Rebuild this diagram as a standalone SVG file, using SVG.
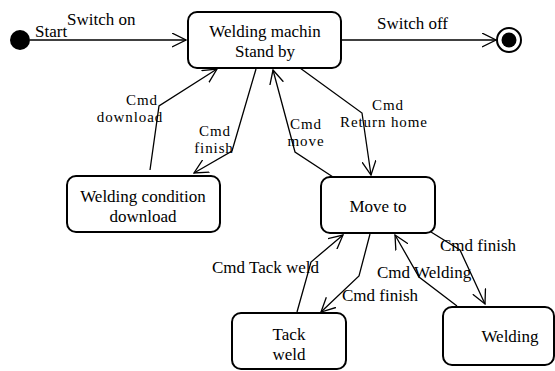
<svg xmlns="http://www.w3.org/2000/svg" width="555" height="371" viewBox="0 0 555 371">
  <defs>
    <style>
      .state rect { fill: #fff; stroke: #000; stroke-width: 2; }
      text { font-family: "Liberation Serif", "Times New Roman", serif; font-size: 17px; fill: #000; }
      .c { text-anchor: middle; }
      .sm { font-size: 15px; letter-spacing: 0.9px; }
      .edge { fill: none; stroke: #000; stroke-width: 1.3; marker-end: url(#open); }
    </style>
    <marker id="open" viewBox="0 0 15 15" refX="14" refY="7.5" markerWidth="15" markerHeight="15" markerUnits="userSpaceOnUse" orient="auto">
      <path d="M0,0.5 L14,7.5 L0,14.5" fill="none" stroke="#000" stroke-width="1.3"/>
    </marker>
  </defs>
  <rect width="555" height="371" fill="#fff"/>

  <!-- pseudo states -->
  <g id="start">
    <circle cx="20" cy="40" r="10" fill="#000"/>
    <text x="35" y="37">Start</text>
  </g>
  <g id="end">
    <circle cx="509" cy="40" r="12" fill="#fff" stroke="#000" stroke-width="2"/>
    <circle cx="509" cy="40" r="7.5" fill="#000"/>
  </g>

  <!-- states -->
  <g id="standby" class="state">
    <rect x="188" y="12" width="153" height="56" rx="9"/>
    <text class="c" x="265" y="37">Welding machin</text>
    <text class="c" x="265" y="57">Stand by</text>
  </g>
  <g id="download" class="state">
    <rect x="67" y="176" width="153" height="56" rx="9"/>
    <text class="c" x="143" y="202">Welding condition</text>
    <text class="c" x="143" y="222">download</text>
  </g>
  <g id="moveto" class="state">
    <rect x="321" y="177" width="114" height="56" rx="9"/>
    <text class="c" x="378" y="212">Move to</text>
  </g>
  <g id="tackweld" class="state">
    <rect x="232" y="313" width="114" height="56" rx="9"/>
    <text class="c" x="289" y="340">Tack</text>
    <text class="c" x="289" y="360">weld</text>
  </g>
  <g id="welding" class="state">
    <rect x="443" y="307" width="111" height="58" rx="9"/>
    <text class="c" x="510" y="342">Welding</text>
  </g>

  <!-- transitions -->
  <g id="connectors">
    <path class="edge" d="M30,40 L186,40"/>
    <path class="edge" d="M341,40 L496,40"/>
    <path class="edge" d="M150,170 L159,106 L217,69"/>
    <path class="edge" d="M256,69 L232,151 L194,173"/>
    <path class="edge" d="M333,177 L295,152 L273,70"/>
    <path class="edge" d="M300,68 L362,113 L371,175"/>
    <path class="edge" d="M297,312 L311,262 L343,235"/>
    <path class="edge" d="M370,234 L359,276 L321,312"/>
    <path class="edge" d="M457,306 L419,277 L395,235"/>
    <path class="edge" d="M431,232 L460,250 L485,304"/>
  </g>

  <!-- transition labels -->
  <g id="labels">
    <text x="67" y="25">Switch on</text>
    <text x="377" y="29">Switch off</text>
    <text class="c sm" x="142" y="105">Cmd</text>
    <text class="c sm" x="130" y="122">download</text>
    <text class="c sm" x="215" y="136">Cmd</text>
    <text class="c sm" x="214" y="153">finish</text>
    <text class="c sm" x="306" y="129">Cmd</text>
    <text class="c sm" x="306" y="146">move</text>
    <text class="c sm" x="388" y="110">Cmd</text>
    <text class="c sm" x="384" y="127">Return home</text>
    <text x="212" y="273">Cmd Tack weld</text>
    <text x="342" y="301">Cmd finish</text>
    <text x="377" y="278">Cmd Welding</text>
    <text x="440" y="251">Cmd finish</text>
  </g>
</svg>
